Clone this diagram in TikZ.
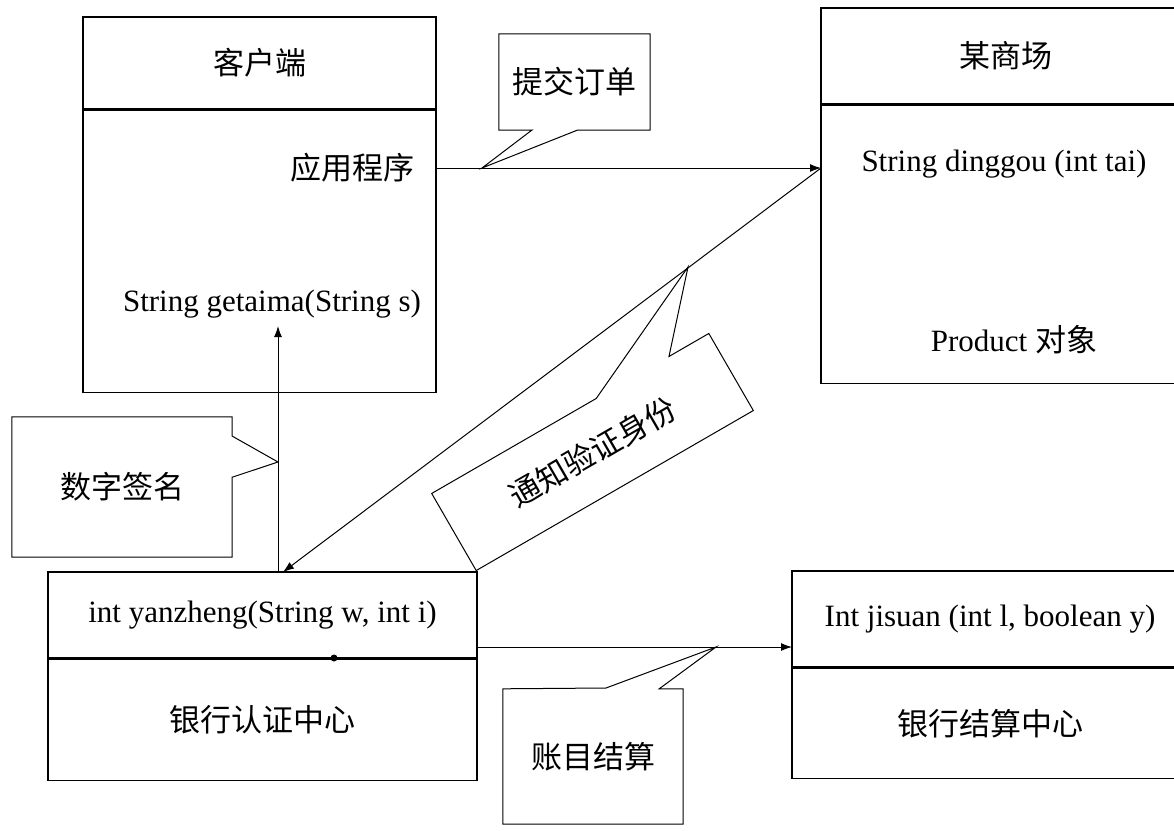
\documentclass[tikz,border=0pt]{standalone}
\usepackage{fontspec}
\setmainfont{Liberation Serif}
\newfontfamily\cjk{Noto Sans CJK SC}
\usepackage{tikz}
\usetikzlibrary{arrows.meta, positioning}

\newcommand{\diagfont}{\fontsize{31}{37}\selectfont}

\begin{document}
\begin{tikzpicture}[
    x=1pt, y=-1pt,
    box/.style={rectangle, draw, line width=1.4pt, inner sep=0pt, font=\diagfont},
    label/.style={inner sep=0pt, font=\diagfont},
    note/.style={draw, line width=1pt, line join=miter},
    arrow/.style={-{Latex[length=11pt,width=8pt]}, line width=1pt},
    dot/.style={circle, fill, inner sep=0pt, minimum size=7pt}
]
\useasboundingbox (0,0) rectangle (1174,830);

% Client
\node[box, minimum width=353pt, minimum height=92pt] (client_t) at (259.5,63) {{\cjk 客户端}};
\node[box, minimum width=353pt, minimum height=282pt, below=0pt of client_t] (client_b) {};
\node[label] (app) at (352,168) {{\cjk 应用程序}};
\node[label] (getpw) at (272,304) {String getaima(String s)};

% Mall
\node[box, minimum width=369pt, minimum height=96pt] (mall_t) at (1005.5,56) {{\cjk 某商场}};
\node[box, minimum width=369pt, minimum height=278pt, below=0pt of mall_t] (mall_b) {};
\node[label] (dinggou) at (1004,164) {String dinggou (int tai)};
\node[label] (product) at (1014,340) {Product {\cjk 对象}};

% Bank auth centre
\node[box, minimum width=429pt, minimum height=86pt] (bank_t) at (262.5,615) {int yanzheng(String w, int i)};
\node[box, minimum width=429pt, minimum height=121pt, below=0pt of bank_t] (bank_b) {{\cjk 银行认证中心}};
\node[dot] (joint) at (334,658) {};

% Bank settlement centre
\node[box, minimum width=396pt, minimum height=96pt] (calc_t) at (990,619) {Int jisuan (int l, boolean y)};
\node[box, minimum width=396pt, minimum height=110pt, below=0pt of calc_t] (calc_b) {{\cjk 银行结算中心}};

% Connector ends
\coordinate (order_in) at (821,168);
\coordinate (notify_end) at (283,572);
\coordinate (sig_foot) at (278,572);
\coordinate (sig_head) at (278,326);
\coordinate (pay_start) at (477,647);
\coordinate (pay_end) at (792,647);

% Arrows
\draw[arrow] (app.east -| client_b.east) -- (order_in);
\draw[arrow] (order_in) -- (notify_end);
\draw[arrow] (sig_foot) -- (sig_head);
\draw[arrow] (pay_start) -- (pay_end);

% Callouts
\coordinate (submit_tip) at (482,168);
\coordinate (sign_tip) at (278,462);
\coordinate (pay_tip) at (716,647);
\coordinate (notify_tip) at (688,267);

\node[label, minimum width=151pt, minimum height=96pt] (submit) at (574.5,82) {{\cjk 提交订单}};
\draw[note] (submit.south west) -- (submit.north west) -- (submit.north east) -- (submit.south east)
    -- ++(-73,0) -- (submit_tip) -- ++(50,-38) -- cycle;

\node[label, minimum width=220pt, minimum height=140pt] (sign) at (122,487) {{\cjk 数字签名}};
\draw[note] (sign.north east) -- (sign.north west) -- (sign.south west) -- (sign.south east)
    -- ++(0,-80) -- (sign_tip) -- ++(-46,-26) -- cycle;

\node[label, minimum width=180pt, minimum height=135pt] (pay) at (593,756.5) {{\cjk 账目结算}};
\draw[note] (pay.north west) -- (pay.south west) -- (pay.south east) -- (pay.north east)
    -- ++(-24,0) -- (pay_tip) -- ++(-110,41) -- cycle;

\begin{scope}[shift={(592.5,452)}, rotate=30]
\node[label, rotate=30] (notify) at (0,0) {{\cjk 通知验证身份}};
\draw[note] (-160,-44.5) -- (-160,44.5) -- (160,44.5) -- (160,-44.5) -- (114,-44.5)
    -- (notify_tip) -- (30,-44.5) -- cycle;
\end{scope}

\end{tikzpicture}
\end{document}
